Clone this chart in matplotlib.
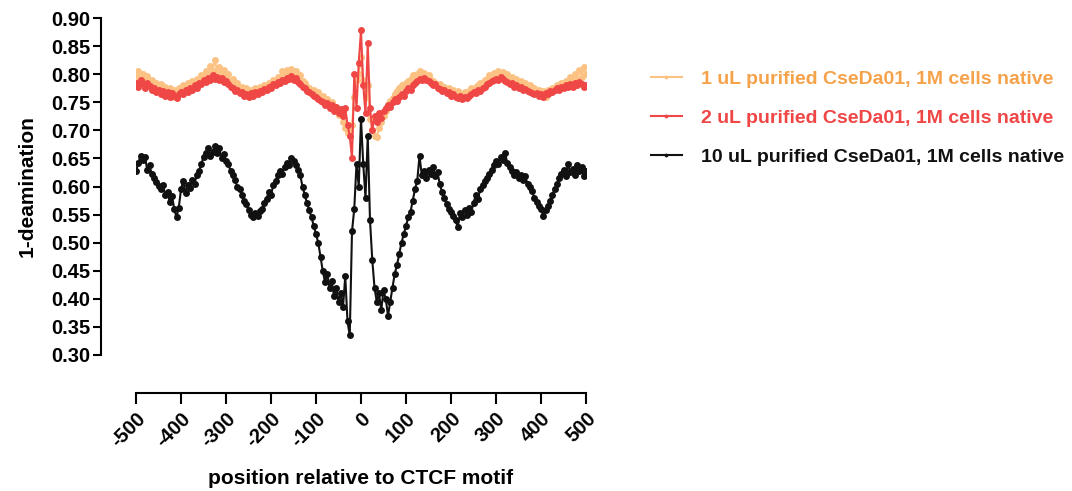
import numpy as np
import matplotlib
matplotlib.use("Agg")
import matplotlib.pyplot as plt

positions = list(range(-500, 501, 5))

black_10uL = [
    0.628, 0.641, 0.655, 0.647, 0.652, 0.630, 0.638, 0.622, 0.615, 0.608, 0.601, 0.596, 0.603, 0.585, 0.590, 0.572, 0.583, 0.560, 0.545, 0.562,
    0.595, 0.610, 0.588, 0.603, 0.598, 0.612, 0.605, 0.620, 0.628, 0.640, 0.652, 0.660, 0.668, 0.655, 0.662, 0.672, 0.660, 0.668, 0.650, 0.658,
    0.645, 0.640, 0.628, 0.620, 0.612, 0.600, 0.596, 0.585, 0.575, 0.568, 0.558, 0.550, 0.545, 0.552, 0.548, 0.556, 0.560, 0.570, 0.578, 0.590,
    0.585, 0.602, 0.610, 0.620, 0.628, 0.622, 0.635, 0.642, 0.638, 0.650, 0.645, 0.638, 0.630, 0.620, 0.600, 0.585, 0.570, 0.558, 0.545, 0.530,
    0.515, 0.500, 0.475, 0.450, 0.430, 0.445, 0.420, 0.432, 0.405, 0.420, 0.395, 0.410, 0.385, 0.440, 0.360, 0.335, 0.520, 0.560, 0.640, 0.600,
    0.720, 0.640, 0.580, 0.690, 0.540, 0.470, 0.420, 0.395, 0.410, 0.380, 0.415, 0.400, 0.370, 0.395, 0.420, 0.445, 0.460, 0.480, 0.500, 0.515,
    0.530, 0.545, 0.555, 0.575, 0.595, 0.610, 0.655, 0.620, 0.628, 0.615, 0.630, 0.622, 0.635, 0.618, 0.625, 0.605, 0.590, 0.580, 0.568, 0.560,
    0.555, 0.548, 0.540, 0.528, 0.552, 0.545, 0.558, 0.550, 0.562, 0.555, 0.570, 0.585, 0.578, 0.595, 0.602, 0.610, 0.615, 0.622, 0.630, 0.638,
    0.645, 0.640, 0.652, 0.648, 0.660, 0.642, 0.635, 0.628, 0.620, 0.625, 0.615, 0.620, 0.612, 0.618, 0.605, 0.600, 0.592, 0.580, 0.572, 0.565,
    0.560, 0.548, 0.558, 0.565, 0.575, 0.585, 0.595, 0.605, 0.615, 0.622, 0.630, 0.618, 0.640, 0.625, 0.632, 0.620, 0.638, 0.628, 0.635, 0.618,
    0.628,
]

red_2uL = [
    0.785, 0.778, 0.790, 0.782, 0.776, 0.784, 0.779, 0.772, 0.776, 0.768, 0.772, 0.765, 0.770, 0.762, 0.768, 0.760, 0.766, 0.762, 0.758, 0.765,
    0.768, 0.764, 0.772, 0.768, 0.775, 0.772, 0.780, 0.776, 0.785, 0.782, 0.790, 0.786, 0.794, 0.790, 0.798, 0.792, 0.795, 0.790, 0.793, 0.786,
    0.788, 0.782, 0.778, 0.775, 0.770, 0.772, 0.766, 0.768, 0.762, 0.765, 0.760, 0.766, 0.762, 0.768, 0.764, 0.770, 0.768, 0.774, 0.772, 0.778,
    0.776, 0.782, 0.780, 0.786, 0.784, 0.790, 0.788, 0.794, 0.792, 0.796, 0.790, 0.793, 0.786, 0.782, 0.778, 0.775, 0.770, 0.768, 0.765, 0.762,
    0.760, 0.756, 0.752, 0.750, 0.745, 0.748, 0.740, 0.745, 0.735, 0.742, 0.730, 0.738, 0.725, 0.740, 0.710, 0.690, 0.650, 0.800, 0.740, 0.820,
    0.878, 0.780, 0.730, 0.855, 0.740, 0.700, 0.725, 0.715, 0.730, 0.722, 0.735, 0.740, 0.745, 0.742, 0.750, 0.755, 0.752, 0.760, 0.765, 0.762,
    0.770, 0.775, 0.772, 0.780, 0.784, 0.788, 0.792, 0.790, 0.794, 0.790, 0.788, 0.785, 0.780, 0.782, 0.776, 0.774, 0.770, 0.772, 0.766, 0.768,
    0.762, 0.765, 0.760, 0.758, 0.762, 0.756, 0.760, 0.758, 0.762, 0.765, 0.768, 0.766, 0.772, 0.770, 0.776, 0.778, 0.782, 0.785, 0.788, 0.790,
    0.792, 0.790, 0.795, 0.792, 0.788, 0.786, 0.782, 0.784, 0.778, 0.780, 0.775, 0.778, 0.772, 0.774, 0.770, 0.768, 0.766, 0.764, 0.766, 0.762,
    0.764, 0.760, 0.766, 0.764, 0.770, 0.768, 0.772, 0.775, 0.772, 0.778, 0.776, 0.780, 0.777, 0.782, 0.778, 0.784, 0.780, 0.786, 0.782, 0.778,
    0.780,
]

orange_1uL = [
    0.795, 0.805, 0.790, 0.800, 0.788, 0.796, 0.782, 0.790, 0.778, 0.785, 0.776, 0.782, 0.770, 0.778, 0.766, 0.775, 0.760, 0.772, 0.768, 0.776,
    0.772, 0.780, 0.776, 0.785, 0.780, 0.788, 0.784, 0.792, 0.790, 0.798, 0.795, 0.805, 0.800, 0.815, 0.805, 0.825, 0.808, 0.812, 0.802, 0.808,
    0.796, 0.800, 0.788, 0.792, 0.780, 0.785, 0.774, 0.778, 0.770, 0.775, 0.768, 0.772, 0.765, 0.775, 0.770, 0.778, 0.772, 0.780, 0.778, 0.785,
    0.782, 0.790, 0.788, 0.795, 0.792, 0.805, 0.798, 0.808, 0.800, 0.810, 0.802, 0.805, 0.796, 0.798, 0.788, 0.785, 0.778, 0.775, 0.770, 0.772,
    0.765, 0.768, 0.758, 0.762, 0.752, 0.755, 0.745, 0.750, 0.738, 0.742, 0.728, 0.732, 0.715, 0.705, 0.695, 0.700, 0.710, 0.760, 0.790, 0.800,
    0.830, 0.790, 0.760, 0.780, 0.720, 0.700, 0.690, 0.688, 0.705, 0.715, 0.725, 0.735, 0.745, 0.752, 0.758, 0.765, 0.770, 0.775, 0.780, 0.778,
    0.785, 0.788, 0.792, 0.798, 0.795, 0.800, 0.805, 0.798, 0.802, 0.795, 0.798, 0.790, 0.788, 0.785, 0.780, 0.782, 0.776, 0.778, 0.770, 0.775,
    0.768, 0.772, 0.765, 0.770, 0.766, 0.762, 0.768, 0.765, 0.770, 0.775, 0.772, 0.778, 0.780, 0.785, 0.782, 0.790, 0.792, 0.798, 0.795, 0.802,
    0.800, 0.806, 0.798, 0.804, 0.796, 0.800, 0.792, 0.795, 0.788, 0.792, 0.785, 0.788, 0.780, 0.784, 0.776, 0.780, 0.772, 0.776, 0.768, 0.772,
    0.766, 0.770, 0.760, 0.772, 0.768, 0.775, 0.772, 0.780, 0.776, 0.785, 0.780, 0.788, 0.782, 0.795, 0.785, 0.800, 0.790, 0.808, 0.795, 0.812,
    0.800,
]

labels = [
    "1 uL purified CseDa01, 1M cells native",
    "2 uL purified CseDa01, 1M cells native",
    "10 uL purified CseDa01, 1M cells native",
]
line_colors = ["#FBC283", "#EF4646", "#111111"]
text_colors = ["#F5A24A", "#EF4646", "#111111"]
xticks = list(range(-500, 501, 100))
yticks = [round(0.30 + 0.05 * i, 2) for i in range(13)]

plt.rcParams['font.family'] = ['Liberation Sans', 'DejaVu Sans']
plt.rcParams['font.weight'] = 'bold'

fig = plt.figure(figsize=(10.72, 4.91), dpi=100)
ax = fig.add_axes([136 / 1072, 1 - 355 / 491, 450 / 1072, 337 / 491])

# spine positions first (set_position resets tick properties)
for s in ['top', 'right']:
    ax.spines[s].set_visible(False)
ax.spines['left'].set_position(('outward', 25))
ax.spines['bottom'].set_position(('outward', 27))
ax.spines['left'].set_linewidth(1.5)
ax.spines['bottom'].set_linewidth(1.5)

series = [orange_1uL, red_2uL, black_10uL]
for vals, col, lab in zip(series, line_colors, labels):
    ax.plot(positions, vals, color=col, lw=1.5, marker='o', ms=5.0,
            markeredgewidth=0, label=lab)

ax.set_xlim(-500, 500)
ax.set_ylim(0.30, 0.90)
ax.set_xticks(xticks)
ax.set_xticklabels([str(t) for t in xticks], rotation=45, ha='right',
                   rotation_mode='anchor', fontsize=14.5, fontweight='bold')
ax.set_yticks(yticks)
ax.set_yticklabels([f"{t:.2f}" for t in yticks], fontsize=14.5, fontweight='bold')
ax.tick_params(axis='y', length=6, width=1.5, pad=2)
ax.tick_params(axis='x', length=8, width=1.5, pad=4)

ax.set_ylabel("1-deamination", fontsize=15, fontweight='bold', labelpad=10)
ax.set_xlabel("position relative to CTCF motif", fontsize=15, fontweight='bold', labelpad=13)

leg = fig.legend(loc='upper left', bbox_to_anchor=(633 / 1072, 1 - 53 / 491),
                 frameon=False, fontsize=14, handlelength=1.6,
                 handletextpad=1.0, labelspacing=1.1, markerscale=0.55)
for txt, c in zip(leg.get_texts(), text_colors):
    txt.set_color(c)
    txt.set_fontweight('bold')

fig.savefig("out.png", dpi=100)
